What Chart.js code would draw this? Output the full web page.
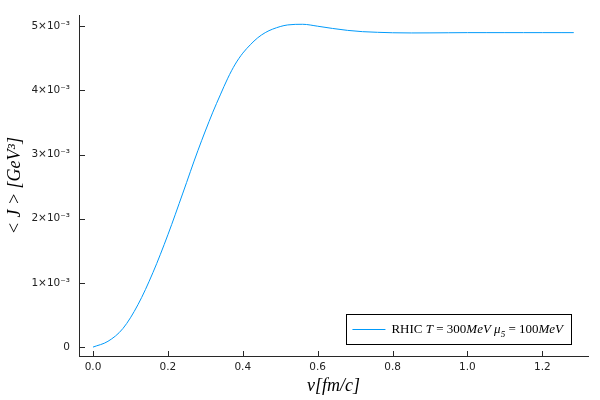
<!DOCTYPE html>
<html>
<head>
<meta charset="utf-8">
<script src="https://cdn.jsdelivr.net/npm/chart.js@4/dist/chart.umd.min.js"></script>
<style>
  body { margin: 0; background: #fff; }
</style>
</head>
<body>
<canvas id="myChart" width="600" height="400"></canvas>
<script>
// velocity v [fm/c]
var vValues = [0, 0.04, 0.08, 0.12, 0.16, 0.20, 0.24, 0.28, 0.32, 0.34, 0.36, 0.38, 0.40, 0.42, 0.44, 0.46, 0.48,
  0.52, 0.56, 0.60, 0.64, 0.68, 0.72, 0.76, 0.80, 0.85, 0.90, 0.95, 1.00, 1.05, 1.10, 1.15, 1.20, 1.25, 1.284];
// <J> in units of 10^-3 GeV^3
var jValues = [0, 0.09, 0.29, 0.66, 1.16, 1.75, 2.40, 3.06, 3.66, 3.93, 4.19, 4.41, 4.58, 4.71, 4.82, 4.90, 4.955,
  5.02, 5.03, 5.00, 4.965, 4.935, 4.915, 4.905, 4.898, 4.895, 4.896, 4.898, 4.90, 4.90, 4.90, 4.90, 4.90, 4.90, 4.90];

var xTicks = [0, 0.2, 0.4, 0.6, 0.8, 1.0, 1.2];
var yTicks = [0, 1, 2, 3, 4, 5];
var yTickLabels = ['0', '1×10⁻³', '2×10⁻³', '3×10⁻³', '4×10⁻³', '5×10⁻³'];

var seriesColor = '#009AFA';
var axisColor = 'rgb(40,40,40)';

var points = [];
for (var i = 0; i < vValues.length; i++) {
  points.push({x: vValues[i], y: jValues[i]});
}

//ticks vers l'interieur + legende dans le coin
var innerStuff = {
  id: 'innerStuff',
  afterDraw: function(chart) {
    var ctx = chart.ctx;
    var area = chart.chartArea;
    var xs = chart.scales.x, ys = chart.scales.y;
    ctx.save();
    ctx.strokeStyle = axisColor;
    ctx.lineWidth = 1;
    ctx.beginPath();
    xTicks.forEach(function(v) {
      var px = Math.round(xs.getPixelForValue(v)) + 0.5;
      ctx.moveTo(px, area.bottom);
      ctx.lineTo(px, area.bottom - 5);
    });
    yTicks.forEach(function(v) {
      var py = Math.round(ys.getPixelForValue(v)) + 0.5;
      ctx.moveTo(area.left, py);
      ctx.lineTo(area.left + 6, py);
    });
    ctx.stroke();

    // legende
    var parts = [
      ['RHIC ', 'normal', 0],
      ['T', 'italic', 0],
      [' = 300', 'normal', 0],
      ['MeV ', 'italic', 0],
      ['μ', 'italic', 0],
      ['5', 'sub', 0],
      [' = 100', 'normal', 0],
      ['MeV', 'italic', 0]
    ];
    var fontFor = function(kind) {
      if (kind == 'italic') return 'italic 13px "Liberation Serif"';
      if (kind == 'sub') return 'italic 9px "Liberation Serif"';
      return '13px "Liberation Serif"';
    };
    var textW = 0;
    parts.forEach(function(p) {
      ctx.font = fontFor(p[1]);
      p[2] = ctx.measureText(p[0]).width;
      textW += p[2];
    });
    var boxRight = area.right - 17;
    var boxBottom = area.bottom - 12;
    var boxW = 45 + textW + 8;
    var boxH = 30;
    var boxLeft = boxRight - boxW;
    var boxTop = boxBottom - boxH;
    ctx.fillStyle = '#fff';
    ctx.fillRect(boxLeft, boxTop, boxW, boxH);
    ctx.strokeStyle = '#000';
    ctx.strokeRect(Math.round(boxLeft) + 0.5, Math.round(boxTop) + 0.5, Math.round(boxW), boxH);
    var midY = Math.round(boxTop + boxH / 2) + 0.5;
    ctx.strokeStyle = seriesColor;
    ctx.beginPath();
    ctx.moveTo(boxLeft + 6, midY);
    ctx.lineTo(boxLeft + 39, midY);
    ctx.stroke();
    ctx.fillStyle = '#000';
    ctx.textBaseline = 'middle';
    var tx = boxLeft + 45;
    parts.forEach(function(p) {
      ctx.font = fontFor(p[1]);
      ctx.fillText(p[0], tx, p[1] == 'sub' ? midY + 5 : midY);
      tx += p[2];
    });
    ctx.restore();
  }
};

var config = {
  type: 'line',
  data: {
    datasets: [{
      label: 'RHIC T = 300MeV μ5 = 100MeV',
      data: points,
      borderColor: seriesColor,
      borderWidth: 1,
      pointRadius: 0,
      fill: false,
      cubicInterpolationMode: 'monotone'
    }]
  },
  options: {
    responsive: false,
    animation: false,
    layout: { padding: { left: 0, top: 12, right: 12, bottom: 0 } },
    plugins: {
      legend: { display: false },
      tooltip: { enabled: false }
    },
    scales: {
      x: {
        type: 'linear',
        min: -0.0374,
        max: 1.322,
        afterFit: function(axis) { axis.height = 44; },
        afterBuildTicks: function(axis) {
          axis.ticks = xTicks.map(function(v) { return {value: v}; });
        },
        grid: { drawOnChartArea: false, drawTicks: false },
        border: { display: true, color: axisColor, width: 1 },
        ticks: {
          padding: 5,
          color: '#222',
          font: { family: '"DejaVu Sans"', size: 10.5 },
          maxRotation: 0,
          callback: function(v) { return v.toFixed(1); }
        },
        title: {
          display: true,
          text: 'v[fm/c]',
          color: '#000',
          font: { family: '"Liberation Serif"', size: 18, style: 'italic' },
          padding: { top: 0, bottom: 3 }
        }
      },
      y: {
        type: 'linear',
        min: -0.139,
        max: 5.17,
        afterFit: function(axis) { axis.width = 79; },
        afterBuildTicks: function(axis) {
          axis.ticks = yTicks.map(function(v) { return {value: v}; });
        },
        grid: { drawOnChartArea: false, drawTicks: false },
        border: { display: true, color: axisColor, width: 1 },
        ticks: {
          padding: 9,
          color: '#222',
          font: { family: '"DejaVu Sans"', size: 10.5 },
          callback: function(v) { return yTickLabels[yTicks.indexOf(v)]; }
        },
        title: {
          display: true,
          text: '< J > [GeV³]',
          color: '#000',
          font: { family: '"Liberation Serif"', size: 18, style: 'italic' },
          padding: { top: 4, bottom: 0 }
        }
      }
    }
  },
  plugins: [innerStuff]
};

var myChart = new Chart(document.getElementById('myChart'), config);
</script>
</body>
</html>
